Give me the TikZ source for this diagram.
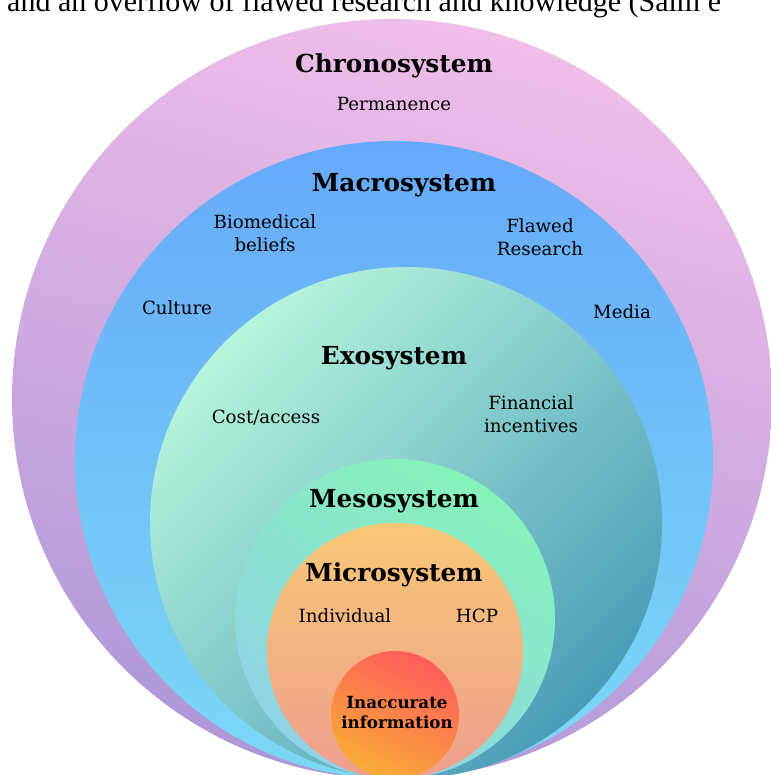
\documentclass[tikz,border=0pt]{standalone}
\usepackage{fontspec}
\setmainfont{DejaVu Serif}
\newfontfamily\capfont{Liberation Serif}
\usepackage{xcolor}
\usepackage{tikz}

\definecolor{chronoTop}{HTML}{F0BEE9}
\definecolor{chronoBot}{HTML}{AE98D8}
\definecolor{macroTop}{HTML}{66A9FA}
\definecolor{macroBot}{HTML}{7BD9F4}
\definecolor{exoTop}{HTML}{B6F5DC}
\definecolor{exoBot}{HTML}{4A9CB8}
\definecolor{mesoTop}{HTML}{86F2BA}
\definecolor{mesoBot}{HTML}{90D2E6}
\definecolor{microTop}{HTML}{F8C876}
\definecolor{microBot}{HTML}{EE9E8E}
\definecolor{coreTop}{HTML}{FF5C5C}
\definecolor{coreBot}{HTML}{F9AC36}

\tikzset{
  sysname/.style={font=\fontsize{24.8}{28}\selectfont\bfseries, inner sep=0pt},
  factor/.style={font=\fontsize{18.2}{23}\selectfont, align=center, inner sep=0pt},
  corelabel/.style={font=\fontsize{16.7}{20}\selectfont\bfseries, align=center, inner sep=0pt}
}

\begin{document}
\begin{tikzpicture}[x=1pt, y=1pt]
  \useasboundingbox (0,0) rectangle (770,775);

  % Draw the nested systems, all touching at the bottom
  \shade[top color=chronoTop, bottom color=chronoBot, shading angle=-15] (392,376) circle (380);
  \shade[top color=macroTop, bottom color=macroBot] (394,315) circle (319);
  \shade[top color=exoTop, bottom color=exoBot, shading angle=45] (406,252) circle (256);
  \shade[top color=mesoTop, bottom color=mesoBot, shading angle=-30] (395,156) circle (160);
  \shade[top color=microTop, bottom color=microBot] (395,124) circle (128);
  \shade[top color=coreTop, bottom color=coreBot, shading angle=-25] (395,60) circle (64);

  % Caption line cut off at the top
  \node[anchor=base west, inner sep=0pt, font=\capfont\fontsize{30}{32}\selectfont]
    (caption) at (7,763) {and an overflow of flawed research and knowledge (Salm e};

  % Chronosystem
  \node[sysname] (chrono) at (394,709) {Chronosystem};
  \node[factor] (perm) at (394,671) {Permanence};

  % Macrosystem
  \node[sysname] (macro) at (404,590) {Macrosystem};
  \node[factor] (biomed) at (265,542) {Biomedical\\beliefs};
  \node[factor] (flawed) at (540,538) {Flawed\\Research};
  \node[factor] (culture) at (177,467) {Culture};
  \node[factor] (media) at (622,463) {Media};

  % Exosystem
  \node[sysname] (exo) at (394,417) {Exosystem};
  \node[factor] (cost) at (266,357) {Cost/access};
  \node[factor] (finance) at (531,361) {Financial\\incentives};

  % Mesosystem and Microsystem
  \node[sysname] (meso) at (394,274) {Mesosystem};
  \node[sysname] (micro) at (394,200) {Microsystem};
  \node[factor] (indiv) at (345,159) {Individual};
  \node[factor] (hcp) at (477,159) {HCP};

  % Core
  \node[corelabel] (core) at (397,62) {Inaccurate\\information};
\end{tikzpicture}
\end{document}
